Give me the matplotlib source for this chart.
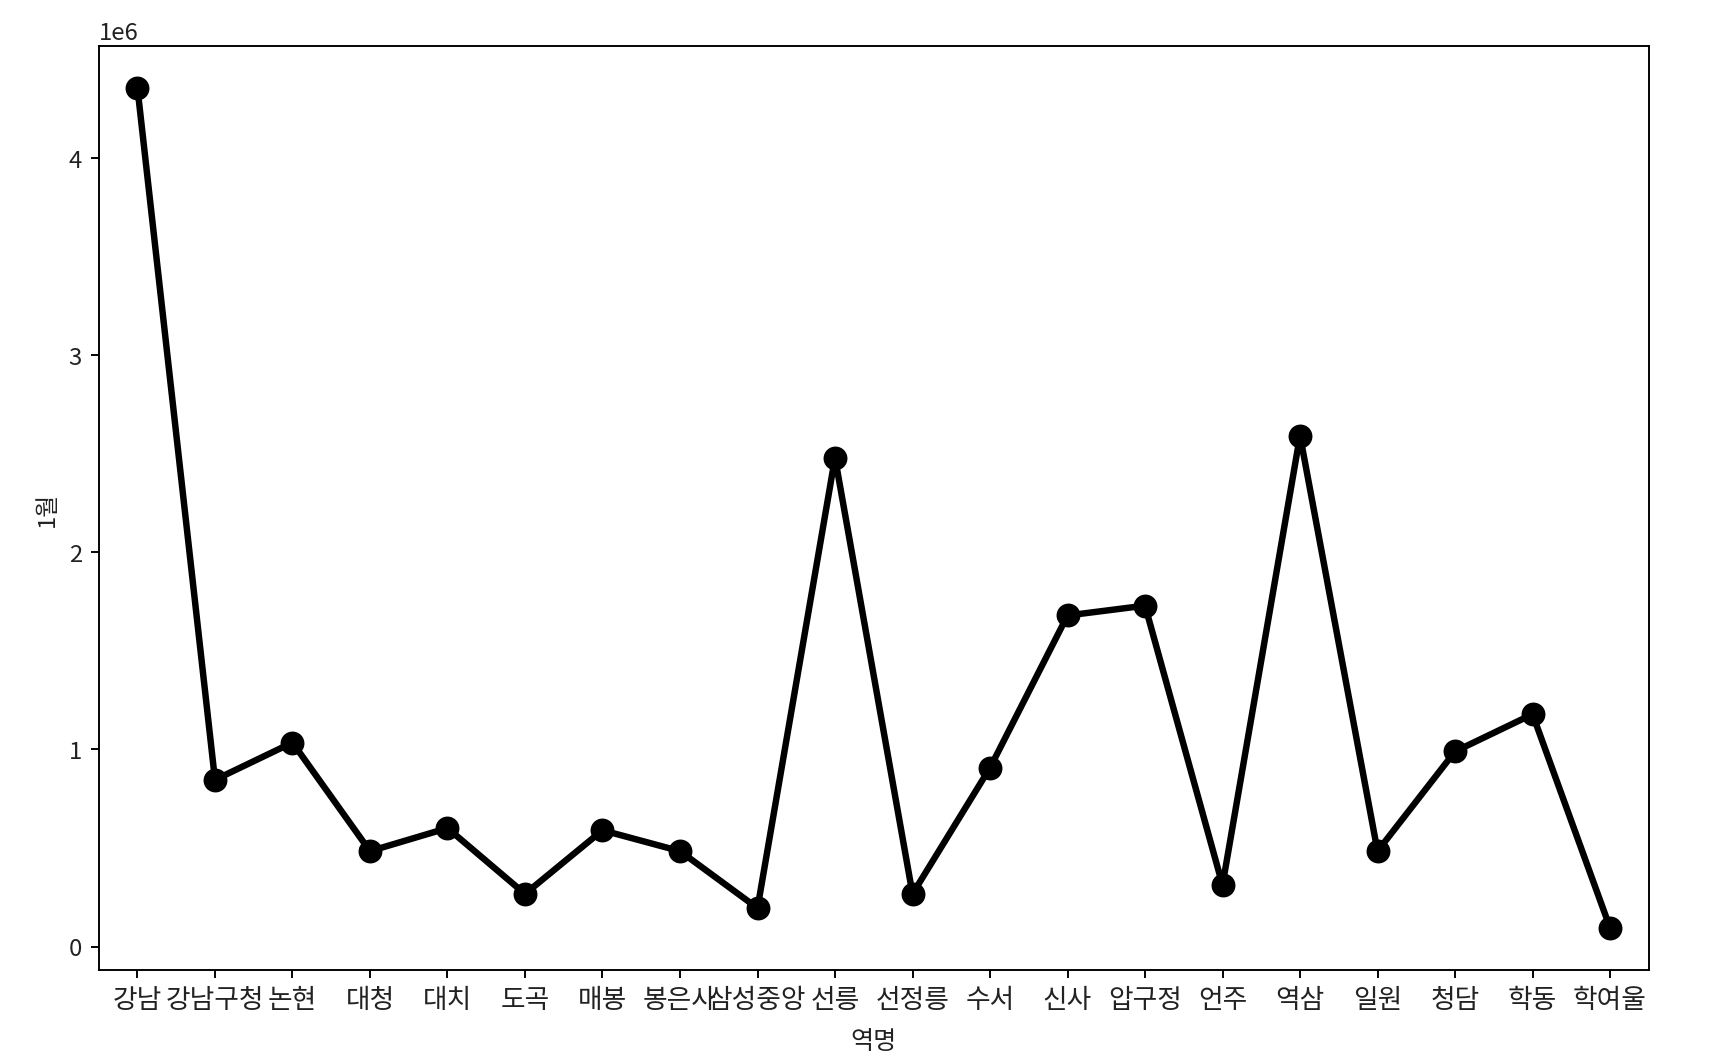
import matplotlib
matplotlib.use("Agg")
import matplotlib.pyplot as plt

plt.rcParams['font.family'] = ['Noto Sans CJK KR', 'DejaVu Sans']
plt.rcParams['axes.unicode_minus'] = False

stations = ["강남", "강남구청", "논현", "대청", "대치", "도곡", "매봉", "봉은사", "삼성중앙", "선릉",
            "선정릉", "수서", "신사", "압구정", "언주", "역삼", "일원", "청담", "학동", "학여울"]
jan = [4.356e6, 0.846e6, 1.035e6, 0.484e6, 0.601e6, 0.267e6, 0.590e6, 0.484e6, 0.195e6, 2.481e6,
       0.267e6, 0.907e6, 1.680e6, 1.730e6, 0.312e6, 2.593e6, 0.484e6, 0.990e6, 1.179e6, 0.095e6]

fig = plt.figure(figsize=(10, 6.174), dpi=172)
ax = fig.add_axes([0.0574, 0.0859, 0.9012, 0.8697])
x = list(range(len(stations)))
ax.plot(x, jan, color='black', linewidth=2.7, marker='o', markersize=9)
ax.set_xticks(x)
ax.set_xticklabels(stations, fontsize=11.2, color='#222222')
ax.tick_params(axis='y', labelcolor='#222222')
ax.set_xlim(-0.5, len(stations) - 0.5)
ax.set_xlabel("역명", labelpad=6, fontsize=10.5, color='#222222')
ax.set_ylabel("1월", color='#222222')
fig.savefig("out.png", dpi=172)
